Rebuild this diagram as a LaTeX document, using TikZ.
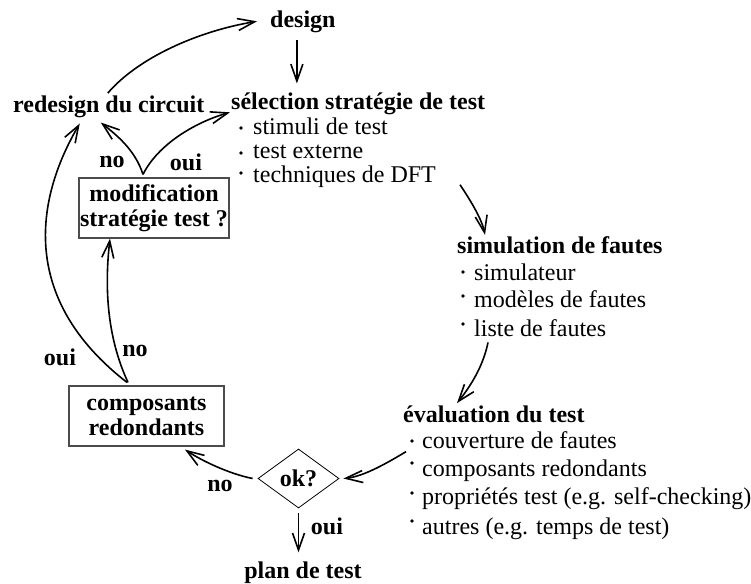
\documentclass[tikz,border=0pt]{standalone}
\usepackage{fontspec}
\setmainfont{Liberation Serif}
\usetikzlibrary{arrows.meta,calc,shapes.geometric}
\begin{document}
\begin{tikzpicture}[x=1pt,y=-1pt,
  every node/.style={font=\fontsize{24}{26}\selectfont, inner sep=0pt},
  hd/.style={font=\fontsize{24}{26}\selectfont\bfseries, anchor=base west},
  itm/.style={anchor=base west},
  lbl/.style={font=\fontsize{24}{26}\selectfont\bfseries},
  arr/.style={line width=1.6pt, -{Straight Barb[length=17pt,width=12pt,line width=1.6pt]}},
  box/.style={draw=black!70, line width=1.2pt, align=center, minimum width=150pt, minimum height=60pt, font=\fontsize{24}{25}\selectfont\bfseries},
  okbox/.style={draw, diamond, aspect=1.4, minimum width=81pt, minimum height=59pt, line width=0.8pt, font=\fontsize{24}{26}\selectfont\bfseries},
  dotr/.style={fill=black}
]
\path[use as bounding box] (0,0) rectangle (751,583);

% main nodes
\node[hd] (design) at (270,28) {design};
\node[hd] (sel) at (231,110) {sélection stratégie de test};
\node[itm] (s1) at (253,134) {stimuli de test};
\node[itm] (s2) at (253,158) {test externe};
\node[itm] (s3) at (253,182) {techniques de DFT};
\node[hd] (redesign) at (13,112) {redesign du circuit};
\node[box] (mod) at (154,208) {modification\\stratégie test ?};
\node[box, minimum width=155pt] (comp) at (146.5,416) {composants\\redondants};
\node[okbox] (ok) at (298.5,478.5) {ok?};
\node[hd, anchor=base] (plan) at (303,578) {plan de test};
\node[hd] (sim) at (457,253) {simulation de fautes};
\node[itm] (m1) at (474,280) {simulateur};
\node[itm] (m2) at (474,307) {modèles de fautes};
\node[itm] (m3) at (474,336) {liste de fautes};
\node[hd] (eval) at (403,422) {évaluation du test};
\node[itm] (e1) at (422,448) {couverture de fautes};
\node[itm] (e2) at (422,476) {composants redondants};
\node[itm] (e3) at (422,504) {propriétés test (e.g. self-checking)};
\node[itm] (e4) at (422,534) {autres (e.g. temps de test)};

% bullets
\foreach \p in {(241,128),(241,153),(241,173),(463,272),(463,296),(463,324),(412,441),(412,463),(412,493),(412,521)}
  \fill[dotr] \p circle[radius=1.9];

% labels
\node[lbl] (l1) at (112,162) {no};
\node[lbl] (l2) at (186,162) {oui};
\node[lbl] (l3) at (60,357) {oui};
\node[lbl] (l4) at (135,351) {no};
\node[lbl] (l5) at (220,486) {no};
\node[lbl] (l6) at (327,526) {oui};

% connectors
\draw[arr] ($(redesign.north)+(-1,-2)$) .. controls +(30,-35) and +(-60,10) .. ($(design.west)+(-13,-1)$);
\draw[arr] ($(design.south)+(-6,7)$) -- ($(design.south)+(-6,50)$);
\draw[arr] ($(mod.north)+(-11,-3)$) .. controls +(-8,-25) and +(15,12) .. ($(redesign.south)+(-8,5)$);
\draw[arr] ($(mod.north)+(-11,-3)$) .. controls +(15,-30) and +(-35,10) .. ($(sel.west)+(-1,8)$);
\draw[arr] ($(comp.north)+(-18.5,-3)$) .. controls +(-20,-43) and +(-6,52) .. ($(mod.south)+(-44,0)$);
\draw[arr] ($(comp.north)+(-19.5,-3)$) .. controls +(-107,-83) and +(-45,77) .. ($(redesign.south)+(-29,6)$);
\draw[arr] ($(ok.west)+(-5,0)$) .. controls +(-25,-5) and +(15,10) .. ($(comp.south)+(38.5,3)$);
\draw[arr] ($(ok.south)+(0,5)$) -- ($(ok.south)+(0,44)$);
\draw[arr] ($(s3.east)+(24,8.5)$) .. controls +(12,18) and +(-3,-15) .. ($(sim.north west)+(28,-1)$);
\draw[arr] ($(m3.south west)+(14,6)$) .. controls +(-5,25) and +(12,-15) .. ($(eval.north west)+(54,-2)$);
\draw[arr] ($(e1.west)+(-16,12)$) .. controls +(-20,12) and +(20,-2) .. ($(ok.east)+(4,0)$);
\end{tikzpicture}
\end{document}
